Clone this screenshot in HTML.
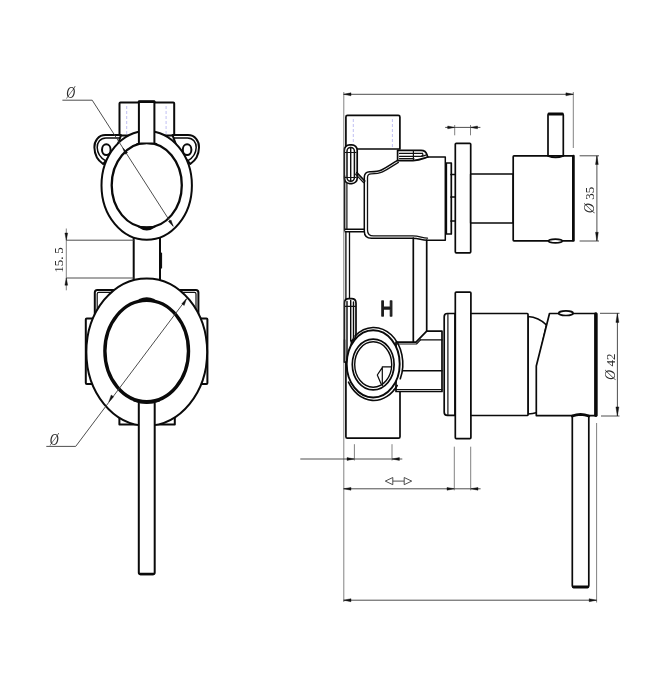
<!DOCTYPE html>
<html lang="en">
<head>
<meta charset="utf-8">
<title>Shower mixer with diverter – technical drawing</title>
<style>
html,body{margin:0;padding:0;background:#fff;}
body{width:654px;height:700px;overflow:hidden;position:relative;font-family:"Liberation Serif",serif;}
svg{display:block;position:absolute;left:0;top:0;will-change:transform;}
.m{fill:none;stroke:#0a0a0a;stroke-width:1.7;stroke-linecap:round;stroke-linejoin:round;}
.mf{fill:#fff;stroke:#0a0a0a;stroke-width:1.7;stroke-linecap:round;stroke-linejoin:round;}
.t{fill:none;stroke:#111;stroke-width:1.2;stroke-linecap:round;stroke-linejoin:round;}
.tf{fill:#fff;stroke:#111;stroke-width:1.2;stroke-linecap:round;stroke-linejoin:round;}
.h{fill:none;stroke:#0a0a0a;stroke-width:2.8;stroke-linecap:round;stroke-linejoin:round;}
.d{fill:none;stroke:#3a3a3a;stroke-width:0.9;}
.e{fill:none;stroke:#6a6a6a;stroke-width:0.85;}
.a{fill:#111;stroke:#111;stroke-width:0.4;stroke-linejoin:round;}
.b{fill:none;stroke:#b9b9f2;stroke-width:0.9;stroke-dasharray:3 2;}
text{font-family:"Liberation Sans",sans-serif;fill:#2a2a2a;}
.sf{font-family:"Liberation Serif",serif;}
#front .mf,#front .m{stroke-width:2;}
#front .h{stroke-width:2.3;}
.h2{fill:none;stroke:#0a0a0a;stroke-width:3.4;}
.hb{fill:#0a0a0a;stroke:#0a0a0a;stroke-width:1.6;stroke-linejoin:round;}
#front .t{stroke-width:1.2;}
</style>
</head>
<body>
<svg width="654" height="700" viewBox="0 0 654 700">
<rect x="0" y="0" width="654" height="700" fill="#fff"/>

<!-- ================= FRONT VIEW (left) ================= -->
<g id="front">
  <!-- top inlet block -->
  <rect class="mf" x="119.500" y="102.500" width="54.700" height="33" rx="1"/>
  <line class="b" x1="126.7" y1="106" x2="126.7" y2="134"/>
  <line class="b" x1="166.1" y1="106" x2="166.1" y2="134"/>
  <!-- ears -->
  <path class="mf" d="M121 135.100 H105.400 C98.400 135.100 94.200 141 94.400 147.500 C94.600 155 97.900 160.500 103.100 164 L116 150 Z"/>
  <path class="m" style="stroke-width:1.5" d="M119.500 137.900 H105.900 C100.400 137.900 97.100 142.500 97.200 147.500 C97.400 153.500 100.900 158 105.400 160.600"/>
  <ellipse class="mf" cx="106.300" cy="149.700" rx="4.300" ry="5.400"/>
  <path class="mf" d="M172.500 135.100 H188 C195 135.100 199.200 141 199 147.500 C198.800 155 195.500 160.500 190.300 164 L178 150 Z"/>
  <path class="m" style="stroke-width:1.5" d="M174 137.900 H187.500 C193 137.900 196.300 142.500 196.200 147.500 C196 153.500 192.500 158 188 160.600"/>
  <ellipse class="mf" cx="187.100" cy="149.700" rx="4.300" ry="5.400"/>
  <!-- neck between rings -->
  <rect class="mf" x="133.7" y="236" width="26.3" height="46"/>
  <path class="t" d="M161.500 253 V268"/>
  <!-- upper ring -->
  <ellipse class="mf" cx="146.7" cy="185.4" rx="45.2" ry="54.4"/>
  <ellipse class="h" cx="146.75" cy="185.2" rx="35.05" ry="42.3"/>
  <path class="hb" d="M138.5 226.6 Q146.7 232.6 155 226.6 Q146.7 228.6 138.5 226.6 Z"/>
  <path class="hb" d="M137 143.9 Q146.7 141.4 156.5 143.9 Q146.7 142.9 137 143.9 Z"/>
  <!-- centre post -->
  <path class="mf" d="M138.900 142.500 V101.800 H154.400 V142.500"/>
  <path class="h" style="stroke-width:2.8" d="M139.300 101.600 H154"/>
  <!-- back plate of lower body -->
  <rect class="mf" x="94.800" y="290" width="103.600" height="60" rx="2.500"/>
  <rect class="t" x="97.200" y="292.400" width="98.800" height="55" rx="1.500"/>
  <rect class="mf" x="85.800" y="318.500" width="121.600" height="65.500" rx="1"/>
  <rect class="mf" x="119.400" y="410" width="55.400" height="14.600"/>
  <!-- lower ring -->
  <ellipse class="mf" cx="146.75" cy="352.1" rx="60.4" ry="73.7"/>
  <ellipse class="h2" cx="146.7" cy="351.1" rx="41.8" ry="50.7"/>
  <path class="hb" d="M139.500 299.800 Q146.700 296.200 154 299.800 Q146.700 298.400 139.500 299.800 Z"/>
  <!-- lever -->
  <path class="mf" d="M138.8 403.5 V572.500 Q138.8 574.300 140.600 574.300 H152.900 Q154.700 574.300 154.700 572.500 V403.5"/>
  <path class="h" d="M140 574 H153.500"/>
  <path class="hb" d="M134 400.800 Q146.700 404.600 159.500 400.800 Q146.700 405.800 134 400.800 Z"/>
</g>

<!-- front view dimensions -->
<g id="front-dims">
  <path class="d" d="M62.4 100.2 H92.2 L173.2 226.3"/>
  <path class="a" d="M122.800 147.900 L125 154.200 L127.600 152.600 Z"/>
  <path class="a" d="M173.200 226.300 L168.400 221.600 L171 220 Z"/>
  <text class="sf" transform="translate(66.3 98.3) scale(0.86 1.16)" font-size="14.4" font-style="italic">Ø</text>

  <path class="e" d="M66.300 228.500 V290.300"/>
  <path class="d" d="M66.300 240.200 H134 M66.300 278 H134"/>
  <path class="a" d="M66.300 240.200 L64.900 233 H67.700 Z"/>
  <path class="a" d="M66.300 278 L64.900 285.200 H67.700 Z"/>
  <text class="sf" transform="translate(63 260) rotate(-90)" text-anchor="middle" font-size="13">15.<tspan dx="2.6">5</tspan></text>

  <path class="d" d="M46.300 446.400 H75.700 L186.600 298.800"/>
  <path class="a" d="M186.600 298.600 L184.200 305.500 L181.800 303.700 Z"/>
  <path class="a" d="M108.800 401.900 L111.200 395 L113.600 396.800 Z"/>
  <text class="sf" transform="translate(49.8 444.7) scale(0.86 1.16)" font-size="14.4" font-style="italic">Ø</text>
</g>

<!-- ================= SIDE VIEW (right) ================= -->
<g id="side">
  <!-- upper wall plate and stem, knob -->
  <rect class="mf" x="446.3" y="163" width="5" height="71"/>
  <path class="m" d="M451 174.500 H455 M451 197 H455 M451 221 H455"/>
  <rect class="mf" x="455.300" y="143.300" width="15.400" height="109.500" rx="1"/>
  <rect class="mf" x="470.700" y="174" width="42.500" height="49"/>
  <path class="mf" d="M548 156 V115 Q548 114 549 114 H562.300 Q563.300 114 563.300 115 V156"/>
  <path class="h" d="M549 114 H562.300"/>
  <rect class="mf" x="513.200" y="155.900" width="59.900" height="85" rx="0.800"/>
  <path class="h" style="stroke-width:2.7" d="M573.400 156 V240.500"/>
  <path class="m" d="M548 155.900 Q555.600 158.900 563.300 155.900"/>
  <ellipse class="mf" cx="555.400" cy="241" rx="6.800" ry="1.900"/>

  <!-- top inlet block -->
  <path class="mf" d="M345.900 149 V117 Q345.900 115.400 347.500 115.400 H398.300 Q399.900 115.400 399.900 117 V149 Z"/>
  <line class="b" x1="353.300" y1="119" x2="353.300" y2="147"/>
  <line class="b" x1="392.400" y1="119" x2="392.400" y2="147"/>

  <!-- upper body -->
  <path class="mf" style="stroke-width:1.5" d="M397.2 160.6 C392.5 163.2 388.5 166.6 381.5 170 C377.5 171.9 373 171.7 369.8 171.7 Q364.3 171.9 364.3 177.3 V231 Q364.3 238.300 371.600 238.300 H412 C420 238.300 420.500 240.200 427.500 240.200 H445.300 V157 H427.500 Z"/>
  <path class="t" style="stroke-width:1.3" d="M398.4 162.4 C393.5 165.1 389.5 168.5 382.5 171.9 C378.5 173.8 374 173.800 371 173.800 Q367.500 174 367.500 177.500 V230 Q367.500 235.900 373.400 235.900 H412.500 C420 235.900 421.500 238 427.500 238.200"/>
  <!-- right ear seen from the side -->
  <path class="mf" d="M397.6 150.300 H421 C424.5 150.300 426.4 152.300 427 154.800 C427.4 156.400 428 157 428 157 C424.5 158 420 160 413 160.7 H397.6 Z"/>
  <path class="t" d="M399.500 153.400 H422.5 M399.500 156.300 H422 C424 156 425.5 155.400 426.5 154.800 M399.500 158.600 H414 M413.4 150.800 V160.500 M422.5 153.400 C423.5 154.500 422.500 156 421 156.300"/>
  <!-- left ear seen from the side -->
  <rect class="mf" x="344.3" y="144.8" width="12.9" height="38.8" rx="5.4" ry="5.4"/>
  <rect class="t" style="stroke-width:1.5" x="347" y="147.400" width="7.400" height="33.800" rx="3.6" ry="3.6"/>
  <path class="t" style="stroke-width:1.4" d="M350.700 147.500 V181.300"/>
  <path class="t" d="M345 152.500 H356 M345 177.500 H356"/>
  <path class="m" d="M356.800 172.600 L364.800 181"/>
  <path class="t" d="M355.500 174.200 L363.500 182.500"/>
  <!-- back line + shelf -->
  <path class="m" style="stroke-width:1.5" d="M344.600 176 V230.3 M344.600 229.300 H364 M345 231.800 H364"/>
  <path class="t" style="stroke-width:1.2" d="M346.900 183 V229"/>
  <path class="m" style="stroke-width:1.3" d="M345.900 232 V299 M349.500 232 V299"/>

  <!-- neck -->
  <path class="m" d="M413.300 238 V341.500 M426.700 240 V331"/>

  <!-- lower wall plate, cylinder, handle -->
  <path class="mf" d="M455 313.500 H447.400 Q444.200 313.500 444.200 316.700 V412.200 Q444.200 415.400 447.400 415.400 H455 Z"/>
  <path class="t" d="M447.900 314 V415"/>
  <rect class="mf" x="455.300" y="292.100" width="15.600" height="146.500" rx="1"/>
  <path class="mf" d="M528 316.500 C536 317 542 320.500 546.500 325 L537 368 V412.500 Q533 413.800 528 414 Z"/>
  <rect class="mf" x="470.900" y="313.500" width="57.100" height="102" rx="0.800"/>
  
  <path class="mf" d="M549.500 313.500 H596.500 V415.600 H536.300 V366 Z"/>
  <path class="h" style="stroke-width:3.4" d="M595.8 314 V415.200"/>
  <ellipse class="mf" cx="565.900" cy="313.200" rx="7.200" ry="2.300"/>
  <path class="mf" d="M572.300 416 V585.500 Q572.300 587.200 574 587.200 H587.100 Q588.800 587.200 588.800 585.500 V416"/>
  <path class="h" d="M573.500 587 H587.600 M572.300 416 Q580.600 412.800 588.800 416"/>

  <!-- lower inlet block -->
  <path class="mf" d="M345.900 360 V436.700 Q345.900 438.200 347.400 438.200 H398.500 Q400 438.200 400 436.700 V391"/>
  <!-- connecting body -->
  <path class="mf" d="M396 342.200 H416 L426.700 331.200 H442 V391.500 H396 Z"/>
  <path class="t" d="M396 344 H416.500 L420.500 339.900 M394 389.500 H442"/>
  <path class="m" style="stroke-width:1.4" d="M420.500 339.900 H442 M403 370.700 H442"/>
  <!-- lower ear from the side -->
  <path class="mf" d="M344.400 362 V303.200 Q344.400 298.700 348.900 298.700 H351.500 Q356 298.700 356 303.200 V333 Q356 339.500 351.500 341.500 L350 362 Z"/>
  <path class="m" style="stroke-width:1.4" d="M347 301.500 V360 M350.700 300.500 V341 M353.500 302 V337.500 Q353.300 339.500 351.800 340.500"/>
  <path class="t" d="M345 306.300 H355.500"/>
  <path class="m" d="M344.400 340 V362"/>
  <!-- outlet ring -->
  <path class="m" style="stroke-width:1.6" d="M355.0 336.0 A29.1 36.5 0 0 1 400.3 378.8"/>
  <path class="m" style="stroke-width:1.6" d="M397.2 385.5 A29.1 36.5 0 0 1 348.5 382.2"/>
  <ellipse class="mf" style="stroke-width:1.9" cx="373.200" cy="363.900" rx="26.500" ry="33.600"/>
  <ellipse class="m" style="stroke-width:1.7" cx="373.200" cy="364.500" rx="20.900" ry="25.400"/>
  <ellipse class="m" style="stroke-width:1.4" cx="373.200" cy="364.500" rx="18.500" ry="22.700"/>
  <path class="m" style="stroke-width:1.2" d="M391.400 366.800 H382.700 L377.300 375 L380.900 383.500 M382.300 366.800 V385.500"/>
</g>

<text transform="translate(386.9 315.7) scale(0.8 1)" text-anchor="middle" font-size="22.8" style="fill:#1c1c1c;stroke:#1c1c1c;stroke-width:1.3;stroke-linejoin:round">H</text>

<!-- side view dimensions -->
<g id="side-dims">
  <path class="e" d="M343.800 92 V602 M573.300 92 V148 M596.600 423 V602.500"/>
  <path class="d" d="M343.600 94.300 H573.300"/>
  <path class="a" d="M343.600 94.300 L351 92.800 V95.800 Z M573.300 94.300 L565.900 92.800 V95.800 Z"/>
  <path class="d" d="M343.600 600.200 H596.600"/>
  <path class="a" d="M343.600 600.200 L351 598.700 V601.700 Z M596.600 600.200 L589.200 598.700 V601.700 Z"/>

  <path class="d" d="M445.200 127.400 H480.400"/>
  <path class="e" d="M454.700 125 V135.300 M470.500 125 V135.300"/>
  <path class="a" d="M454.700 127.400 L447.700 126 V128.800 Z M470.500 127.400 L477.500 126 V128.800 Z"/>

  <path class="d" d="M579.600 155.800 H599 M579.600 241 H599 M596.900 155.800 V241"/>
  <path class="a" d="M596.900 155.800 L595.500 164.500 H598.300 Z M596.900 241 L595.500 232.300 H598.300 Z"/>
  <text class="sf" transform="translate(594.2 200) rotate(-90)" text-anchor="middle" font-size="13"><tspan font-style="italic" font-size="14">Ø</tspan> 35</text>

  <path class="d" d="M600 313.300 H619.500 M601 416 H619.500 M617.400 313.300 V416"/>
  <path class="a" d="M617.400 313.300 L615.900 322.400 H618.900 Z M617.400 416 L615.900 406.900 H618.900 Z"/>
  <text class="sf" transform="translate(614.6 366.8) rotate(-90)" text-anchor="middle" font-size="13"><tspan font-style="italic" font-size="14">Ø</tspan> 42</text>

  <path class="d" d="M300.300 459 H402.300"/>
  <path class="e" d="M354.400 444.200 V460.500 M392 444.200 V460.500"/>
  <path class="a" d="M354.400 459 L347 457.600 V460.400 Z M392 459 L399.400 457.600 V460.400 Z"/>

  <path class="d" d="M343.600 488.800 H480.600"/>
  <path class="e" d="M454.300 446.700 V490.300 M470.700 446.700 V490.300"/>
  <path class="a" d="M343.600 488.800 L351 487.400 V490.200 Z M454.300 488.800 L447 487.400 V490.200 Z M470.700 488.800 L478 487.400 V490.200 Z"/>

  <path class="d" d="M392.500 481.100 H404.500"/>
  <path class="d" style="fill:#fff" d="M385.300 481.100 L392.800 477.500 V484.700 Z M411.700 481.100 L404.200 477.500 V484.700 Z"/>
</g>

</svg>
</body>
</html>
